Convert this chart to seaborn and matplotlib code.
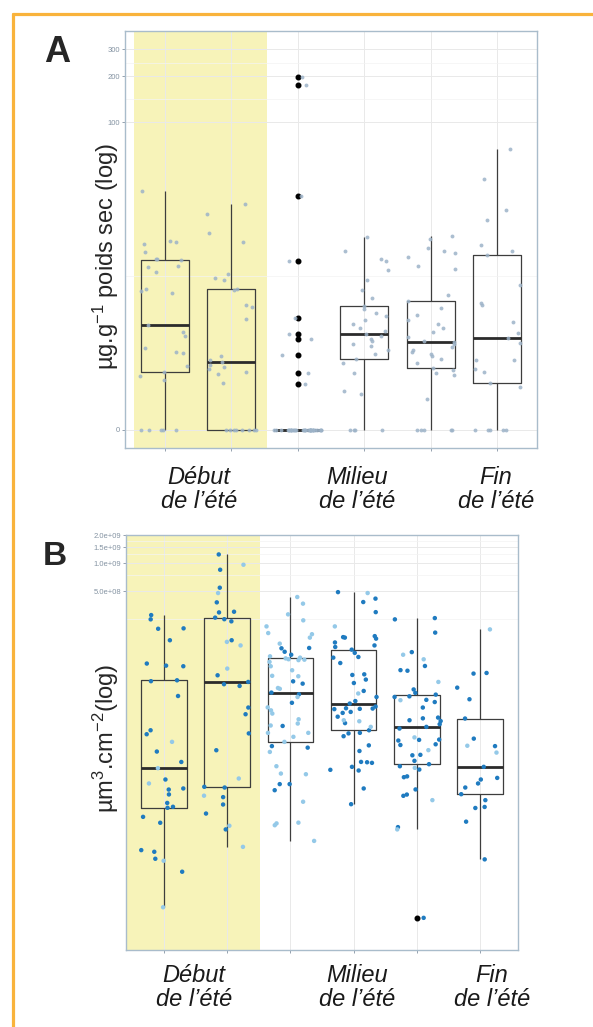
import numpy as np
import pandas as pd
import seaborn as sns
import matplotlib.pyplot as plt
from matplotlib.lines import Line2D
from matplotlib.ticker import FixedLocator, NullFormatter

# six boxes, two per period of the summer
groups = ["debut_1", "debut_2", "milieu_1", "milieu_2", "fin_1", "fin_2"]
seasons = ["Début\nde l’été", "Milieu\nde l’été", "Fin\nde l’été"]

# panel A : µg/g poids sec
a_debut_1 = [0, 0, 0, 0, 0, 1.1, 1.25, 1.37, 1.61, 2.18, 2.23, 2.4, 3.1, 3.36, 3.78,
             6.8, 7.0, 7.2, 9.6, 10.4, 10.7, 11.8, 12.0, 12.0, 13.3, 15.1, 15.6, 16.0, 35.1]
a_debut_2 = [0, 0, 0, 0, 0, 0, 0, 0, 1.01, 1.32, 1.37, 1.48, 1.56, 1.65, 1.78, 1.83,
             2.03, 4.28, 5.3, 5.5, 7.1, 7.28, 8.5, 8.7, 9.4, 15.6, 18.2, 24.4, 28.6]
a_milieu_1 = [0] * 32 + [0.99, 1.34, 2.07, 2.9, 3.2, 4.34, 11.6, 32.4, 175, 198]
a_milieu_2 = [0, 0, 0, 0, 0.72, 0.78, 1.35, 1.7, 1.89, 2.1, 2.3, 2.5, 2.6, 2.8, 2.9, 3.1,
              3.22, 3.4, 3.6, 3.9, 4.2, 4.5, 4.8, 5.1, 5.35, 6.2, 7.1, 8.4, 10.0, 11.6,
              11.9, 13.5, 17.0]
a_fin_1 = [0, 0, 0, 0, 0, 0.58, 1.26, 1.34, 1.45, 1.52, 1.7, 1.9, 2.0, 2.1, 2.2, 2.3,
           2.45, 2.6, 2.70, 2.8, 3.0, 3.3, 3.6, 3.9, 4.2, 4.6, 5.2, 5.85, 6.6, 10.1,
           10.7, 12.4, 13.1, 13.7, 14.3, 16.4, 17.2]
a_fin_2 = [0, 0, 0, 0, 0, 0.9, 1.01, 1.36, 1.5, 1.86, 1.86, 2.67, 2.96, 3.27, 4.0,
           5.45, 5.7, 7.8, 12.8, 13.5, 15.0, 22.4, 26.2, 42.0, 66.5]

# panel B : µm3/cm2, two kinds of points (dark / light blue)
b_debut_1_fonce = [4.80e5, 6.62e5, 7.87e5, 8.20e5, 1.615e6, 1.87e6, 2.34e6, 2.40e6,
                   2.64e6, 3.26e6, 3.68e6, 3.78e6, 4.72e6, 7.29e6, 9.44e6, 1.45e7,
                   1.60e7, 3.74e7, 5.40e7, 5.52e7, 7.82e7, 7.94e7, 8.36e7, 1.49e8,
                   1.98e8, 2.00e8, 2.50e8, 2.78e8]
b_debut_1_clair = [1.99e5, 6.30e5, 4.28e6, 6.25e6, 1.20e7]
b_debut_2_fonce = [1.37e6, 2.03e6, 2.54e6, 3.05e6, 3.87e6, 3.94e6, 9.75e6, 1.48e7,
                   2.38e7, 2.81e7, 4.80e7, 5.01e7, 5.30e7, 6.25e7, 1.49e8, 2.38e8,
                   2.51e8, 2.61e8, 2.97e8, 3.02e8, 3.81e8, 5.48e8, 8.55e8, 1.25e9]
b_debut_2_clair = [8.89e5, 1.50e6, 3.16e6, 4.84e6, 7.38e7, 1.31e8, 1.43e8, 4.80e8, 9.68e8]
b_milieu_1_fonce = [3.62e6, 4.21e6, 4.21e6, 1.04e7, 1.08e7, 1.78e7, 3.16e7, 3.90e7,
                    4.07e7, 5.08e7, 5.38e7, 1.04e8, 1.12e8, 1.22e8, 1.23e8]
b_milieu_1_clair = [1.03e6, 1.52e6, 1.59e6, 1.62e6, 2.72e6, 5.38e6, 5.47e6, 6.56e6,
                    9.35e6, 1.20e7, 1.36e7, 1.50e7, 1.50e7, 1.80e7, 1.89e7, 2.10e7,
                    2.42e7, 2.62e7, 2.82e7, 3.65e7, 4.47e7, 4.56e7, 6.10e7, 6.17e7,
                    7.08e7, 7.82e7, 8.71e7, 9.1e7, 9.2e7, 9.3e7, 9.5e7, 9.68e7,
                    1.00e8, 1.37e8, 1.59e8, 1.73e8, 1.78e8, 2.10e8, 2.44e8, 2.83e8,
                    3.69e8, 4.35e8]
b_milieu_2_fonce = [2.56e6, 3.78e6, 5.90e6, 6.00e6, 6.46e6, 7.13e6, 7.24e6, 7.30e6,
                    9.57e6, 1.10e7, 1.38e7, 1.48e7, 1.50e7, 1.60e7, 1.91e7, 2.24e7,
                    2.46e7, 2.52e7, 2.70e7, 2.72e7, 2.74e7, 2.76e7, 2.88e7, 3.10e7,
                    3.30e7, 3.65e7, 4.24e7, 5.16e7, 5.62e7, 6.30e7, 6.40e7, 8.47e7,
                    9.68e7, 9.84e7, 1.09e8, 1.18e8, 1.26e8, 1.31e8, 1.41e8, 1.55e8,
                    1.59e8, 1.61e8, 1.65e8, 2.99e8, 3.84e8, 4.18e8, 4.91e8]
b_milieu_2_clair = [1.74e7, 2.00e7, 2.05e7, 3.98e7, 2.10e8, 4.80e8]
b_fin_1_fonce = [1.53e5, 1.45e6, 3.15e6, 3.25e6, 3.69e6, 5.0e6, 5.1e6, 6.04e6, 6.56e6,
                 6.90e6, 7.50e6, 8.6e6, 8.7e6, 1.11e7, 1.13e7, 1.24e7, 1.26e7, 1.27e7,
                 1.67e7, 1.74e7, 1.86e7, 2.01e7, 2.05e7, 2.15e7, 2.19e7, 2.81e7,
                 3.22e7, 3.40e7, 3.65e7, 3.71e7, 3.87e7, 4.04e7, 4.40e7, 7.0e7, 7.1e7,
                 7.87e7, 1.11e8, 1.80e8, 2.50e8, 2.58e8]
b_fin_1_clair = [1.37e6, 2.83e6, 6.30e6, 9.77e6, 1.34e7, 3.37e7, 5.30e7, 9.29e7, 1.04e8]
b_fin_2_fonce = [6.52e5, 1.66e6, 2.33e6, 2.39e6, 2.83e6, 3.28e6, 3.87e6, 4.28e6, 4.72e6,
                 4.91e6, 6.46e6, 1.08e7, 1.30e7, 2.14e7, 3.45e7, 4.60e7, 6.52e7, 6.62e7]
b_fin_2_clair = [9.20e6, 1.09e7, 1.95e8]

a_ticks = [0, 100, 200, 300]
b_ticks = [5e8, 1e9, 1.5e9, 2e9]
b_tick_labels = ["5.0e+08", "1.0e+09", "1.5e+09", "2.0e+09"]

# tables for seaborn
a_lists = [a_debut_1, a_debut_2, a_milieu_1, a_milieu_2, a_fin_1, a_fin_2]
df_a = pd.DataFrame({
    "groupe": np.repeat(groups, [len(v) for v in a_lists]),
    "valeur": np.concatenate(a_lists),
})
b_fonce = [b_debut_1_fonce, b_debut_2_fonce, b_milieu_1_fonce, b_milieu_2_fonce,
           b_fin_1_fonce, b_fin_2_fonce]
b_clair = [b_debut_1_clair, b_debut_2_clair, b_milieu_1_clair, b_milieu_2_clair,
           b_fin_1_clair, b_fin_2_clair]
rows = []
for g, f, c in zip(groups, b_fonce, b_clair):
    rows += [(g, v, "fonce") for v in f] + [(g, v, "clair") for v in c]
df_b = pd.DataFrame(rows, columns=["groupe", "valeur", "type"])

sns.set_style("white")
plt.rcParams["font.family"] = ["Liberation Sans", "DejaVu Sans"]
plt.rcParams["mathtext.fontset"] = "custom"
plt.rcParams["mathtext.rm"] = "Liberation Sans"
plt.rcParams["mathtext.it"] = "Liberation Sans:italic"

jaune = "#f7f3b9"
box_col = "#3d3d3d"
grid_col = "#e9e9e9"
border_col = "#a9bccb"
tick_col = "#8493a2"
orange = "#f9b33b"

fig = plt.figure(figsize=(5.93, 10.27), dpi=100)
ax_a = fig.add_axes([0.2108, 0.5638, 0.6948, 0.4060])
ax_b = fig.add_axes([0.2125, 0.0750, 0.6610, 0.4040])

np.random.seed(11)

box_kws = dict(order=groups, fill=False, color=box_col, width=0.72, showcaps=False,
               linewidth=0.9, zorder=2,
               medianprops=dict(linewidth=2.0, color="#2b2b2b"),
               flierprops=dict(marker="o", markerfacecolor="black",
                               markeredgecolor="black", markersize=3.3))

# ---- panel A
ax_a.axvspan(-0.46, 1.54, color=jaune, lw=0, zorder=0.1)
sns.boxplot(data=df_a, x="groupe", y="valeur", ax=ax_a, whis=100, **box_kws)
sns.stripplot(data=df_a, x="groupe", y="valeur", order=groups, ax=ax_a, jitter=0.38,
              size=2.8, color="#9db3c8", alpha=0.85, linewidth=0, zorder=3)


def fwd(v):
    return np.log1p(np.clip(v, -0.99, None))


ax_a.set_yscale("function", functions=(fwd, np.expm1))
ax_a.set_ylim(-0.24, 395)
ax_a.set_yticks(a_ticks)
ax_a.set_yticklabels([str(t) for t in a_ticks])
ax_a.yaxis.set_minor_locator(FixedLocator([9.05, 141.5, 245]))
ax_a.yaxis.set_minor_formatter(NullFormatter())

# ---- panel B
ax_b.axvspan(-0.6, 1.52, color=jaune, lw=0, zorder=0.1)
sns.boxplot(data=df_b, x="groupe", y="valeur", ax=ax_b, log_scale=True, whis=1.5, **box_kws)
sns.stripplot(data=df_b, x="groupe", y="valeur", order=groups, hue="type",
              hue_order=["fonce", "clair"], palette={"fonce": "#1f7bc0", "clair": "#94c9e8"},
              ax=ax_b, jitter=0.38, size=3.2, linewidth=0, legend=False, zorder=3)
ax_b.set_ylim(6.9e4, 2.02e9)
ax_b.set_yticks(b_ticks)
ax_b.set_yticklabels(b_tick_labels)
ax_b.yaxis.set_minor_locator(FixedLocator([2.5e8, 7.5e8, 1.25e9, 1.75e9]))
ax_b.yaxis.set_minor_formatter(NullFormatter())

for ax in (ax_a, ax_b):
    ax.set_xlim(-0.6, 5.6)
    ax.set_xlabel("")
    ax.set_ylabel("")
    ax.set_xticks(range(len(groups)))
    ax.set_xticklabels([])
    ax.set_axisbelow(True)
    ax.grid(True, which="major", color=grid_col, lw=0.7)
    ax.grid(True, which="minor", axis="y", color="#f3f3f3", lw=0.5)
    ax.tick_params(which="major", bottom=True, left=True, length=2.2, width=0.6,
                   color=tick_col, labelsize=5.5, labelcolor=tick_col, pad=1.5)
    ax.tick_params(which="minor", left=False, bottom=False)
    for sp in ax.spines.values():
        sp.set_color(border_col)
        sp.set_linewidth(1.0)

# axis titles, panel letters, period labels
fig.text(0.178, 0.750, "µg.g$^{-1}$ poids sec (log)", rotation=90, ha="center",
         va="center", fontsize=17)
fig.text(0.178, 1 - 738 / 1027, "µm$^{3}$.cm$^{-2}$(log)", rotation=90, ha="center",
         va="center", fontsize=17)
fig.text(0.075, 1 - 62 / 1027, "A", fontsize=26, fontweight="bold", va="baseline")
fig.text(0.072, 1 - 565 / 1027, "B", fontsize=24, fontweight="bold", va="baseline")

for x, lab in zip([199, 357, 496], seasons):
    fig.text(x / 593, 1 - 466 / 1027, lab, ha="center", va="top", fontsize=17,
             style="italic", linespacing=1.05, color="#1a1a1a")
for x, lab in zip([194, 357, 492], seasons):
    fig.text(x / 593, 1 - 964 / 1027, lab, ha="center", va="top", fontsize=17,
             style="italic", linespacing=1.08, color="#1a1a1a")

# orange frame (top and left)
fig.add_artist(Line2D([13 / 593, 1.0], [1 - 14 / 1027, 1 - 14 / 1027],
                      color=orange, lw=2.3, transform=fig.transFigure))
fig.add_artist(Line2D([13 / 593, 13 / 593], [0.0, 1 - 14 / 1027],
                      color=orange, lw=2.3, transform=fig.transFigure))

fig.savefig("out.png", dpi=100)
